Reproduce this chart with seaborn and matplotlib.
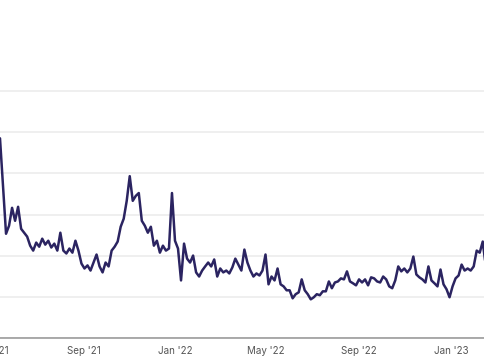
import pandas as pd
import matplotlib.pyplot as plt
import seaborn as sns

# 数据（每4天一个点，从图上读出）
start_date = "2021-05-13"
values = [
    97.1, 73.9, 50.7, 54.6, 63.3, 57.0, 63.8, 53.1, 51.2, 49.3,
    44.9, 42.5, 46.4, 44.4, 48.3, 45.4, 47.3, 44.0, 45.9, 42.5,
    51.2, 42.5, 41.1, 43.5, 41.5, 47.3, 42.5, 36.2, 33.8, 35.3,
    32.8, 36.7, 40.6, 34.8, 31.9, 36.7, 34.8, 42.5, 44.4, 46.9,
    54.1, 58.0, 66.7, 78.7, 66.7, 69.1, 70.5, 57.0, 54.6, 51.2,
    54.1, 44.9, 47.3, 41.5, 44.9, 42.5, 43.5, 70.5, 47.3, 43.5,
    28.0, 45.9, 38.6, 36.7, 40.1, 31.9, 29.9, 32.8, 34.8, 36.7,
    34.8, 38.2, 29.9, 33.8, 31.9, 32.8, 31.4, 34.3, 38.6, 35.7,
    32.8, 43.0, 36.7, 32.8, 29.9, 31.4, 30.4, 32.8, 40.6, 26.1,
    29.9, 28.0, 33.8, 26.1, 25.1, 23.2, 23.2, 19.3, 21.3, 22.2,
    28.5, 23.2, 21.3, 18.8, 19.8, 21.3, 20.8, 22.7, 22.7, 27.5,
    24.2, 27.0, 27.5, 29.0, 28.5, 32.4, 27.5, 26.6, 25.6, 28.5,
    27.0, 28.5, 25.6, 29.5, 29.0, 27.5, 27.0, 29.9, 28.5, 25.1,
    24.2, 28.0, 34.8, 32.4, 33.8, 31.9, 33.8, 39.6, 30.9, 29.5,
    28.5, 27.0, 34.8, 28.0, 26.6, 25.1, 33.3, 26.1, 23.7, 19.8,
    25.1, 29.0, 30.4, 35.7, 32.8, 33.8, 32.8, 34.8, 42.5, 41.5,
    46.9, 34.8, 48.3,
]
tick_dates = ["2021-05-01", "2021-09-01", "2022-01-01", "2022-05-01", "2022-09-01", "2023-01-01"]
tick_labels = ["May '21", "Sep '21", "Jan '22", "May '22", "Sep '22", "Jan '23"]
y_ticks = [0, 20, 40, 60, 80, 100, 120]

df = pd.DataFrame({
    "date": pd.date_range(start_date, periods=len(values), freq="4D"),
    "value": values,
})

sns.set_theme(style="white")
plt.rcParams['font.family'] = ['Inter', 'DejaVu Sans']

fig = plt.figure(figsize=(4.85, 3.6), dpi=100)
ax = fig.add_axes([0, 22 / 360, 1, 248 / 360])

sns.lineplot(data=df, x="date", y="value", ax=ax, color="#2b2461", linewidth=1.8)

ax.set_yticks(y_ticks)
ax.set_yticklabels([])
ax.set_xticks(pd.to_datetime(tick_dates[1:]))
ax.set_xticklabels(tick_labels[1:])
# 刻度设置之后再定范围，否则会被撑开
ax.set_xlim(pd.Timestamp("2021-05-13"), pd.Timestamp("2023-02-15"))
ax.set_ylim(0, 120.6)
ax.tick_params(axis='x', length=0, pad=6, labelsize=7.1, colors="#555555")
ax.tick_params(axis='y', length=0)

# 第一个刻度在可视范围左边，只露出一半
ax.annotate(tick_labels[0], xy=(pd.Timestamp(tick_dates[0]), 0),
            xycoords=('data', 'axes fraction'), xytext=(0, -6),
            textcoords='offset points', ha='center', va='top',
            fontsize=7.1, color="#555555", annotation_clip=False)

ax.grid(axis='y', color="#ececec", linewidth=1.2)
ax.set_xlabel("")
ax.set_ylabel("")
for s in ["top", "left", "right"]:
    ax.spines[s].set_visible(False)
ax.spines["bottom"].set_color("#9c9c9c")
ax.spines["bottom"].set_linewidth(1.2)

fig.savefig("out.png", dpi=100)
